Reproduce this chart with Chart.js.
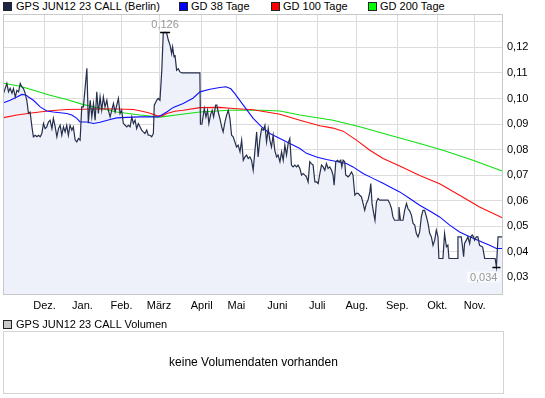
<!DOCTYPE html>
<html>
<head>
<meta charset="utf-8">
<script src="https://cdn.jsdelivr.net/npm/chart.js"></script>
<style>
    body { margin: 0; width: 545px; height: 398px; background: #fff; position: relative; overflow: hidden;
           font-family: "Liberation Sans", Arial, sans-serif; font-size: 11px; color: #000; }
    .sq { position: absolute; width: 7px; height: 7px; border: 1px solid #222; }
    .tx { position: absolute; height: 12px; line-height: 12px; white-space: nowrap; }
    #chartBox { position: absolute; left: 0; top: 0; }
    #volBox { position: absolute; left: 3px; top: 331px; width: 499px; height: 61px; border: 1px solid #d4d4d4;
              text-align: center; line-height: 61px; font-size: 12px; }
</style>
</head>
<body>
<div class="sq" style="left:3px;top:2px;background:#1b2644"></div>
<div class="tx" style="left:16px;top:0px">GPS JUN12 23 CALL (Berlin)</div>
<div class="sq" style="left:179px;top:2px;background:#0000ff"></div>
<div class="tx" style="left:191px;top:0px">GD 38 Tage</div>
<div class="sq" style="left:271px;top:2px;background:#ff0000"></div>
<div class="tx" style="left:283px;top:0px">GD 100 Tage</div>
<div class="sq" style="left:368px;top:2px;background:#00ff00"></div>
<div class="tx" style="left:380px;top:0px">GD 200 Tage</div>

<canvas id="chartBox" width="545" height="320"></canvas>

<div class="sq" style="left:3px;top:320px;background:#c8c8c8"></div>
<div class="tx" style="left:16px;top:318px">GPS JUN12 23 CALL Volumen</div>
<div id="volBox">keine Volumendaten vorhanden</div>

<script>
    // x values are trading days from the left edge of the chart
    var monthDays = [22.7, 43.4, 64.7, 85.2, 108.5, 127.4, 149.8, 171.6, 193.2, 215.3, 237.1, 257.5];
    var monthLabels = ["Dez.", "Jan.", "Feb.", "März", "April", "Mai", "Juni", "Juli", "Aug.", "Sep.", "Okt.", "Nov."];
    var yTicks = [0.03, 0.04, 0.05, 0.06, 0.07, 0.08, 0.09, 0.10, 0.11, 0.12, 0.13];

    var priceDays = [
        0.3, 2.1, 3.0, 3.9, 4.9, 5.7, 6.7, 7.6, 8.5, 9.4, 10.3, 11.2, 12.1, 13.0, 13.9, 14.8, 15.8, 16.6, 17.6, 18.5,
        19.4, 20.3, 21.2, 22.1, 23.0, 23.9, 24.8, 25.7, 26.7, 27.5, 28.5, 29.4, 30.3, 31.2, 32.1, 33.0, 33.9, 34.8, 35.7, 36.6,
        37.6, 38.4, 39.4, 40.3, 41.2, 42.1, 43.0, 43.9, 45.8, 46.6, 47.6, 48.5, 49.4, 50.3, 51.2, 52.1, 53.0, 53.9, 54.8, 55.7,
        56.7, 57.5, 58.5, 59.4, 60.3, 61.2, 63.0, 63.9, 64.8, 65.7, 67.6, 68.4, 69.4, 70.3, 71.2, 72.1, 73.0, 73.9, 74.8, 75.7,
        76.6, 77.5, 78.5, 79.3, 80.3, 81.2, 82.1, 82.6, 83.9, 84.8, 85.7, 86.7, 87.5, 88.5, 89.4, 90.3, 91.2, 92.1, 92.6, 93.4,
        93.9, 94.8, 95.7, 96.6, 97.6, 107.5, 107.8, 108.6, 109.9, 110.8, 111.7, 112.4, 113.5, 114.2, 115.0, 116.1, 116.8, 117.5, 118.4, 119.4,
        120.2, 121.2, 122.1, 123.0, 123.9, 124.8, 125.7, 126.6, 127.5, 128.4, 129.4, 130.3, 131.2, 132.1, 133.0, 133.9, 134.8, 135.7, 136.6, 137.5,
        138.5, 139.3, 140.3, 141.2, 142.1, 143.0, 143.9, 144.8, 145.7, 146.6, 147.5, 148.4, 149.4, 150.2, 151.2, 152.1, 153.0, 153.9, 154.8, 155.7,
        156.6, 157.5, 158.4, 159.3, 160.3, 161.1, 162.1, 163.0, 163.9, 164.8, 165.7, 166.6, 167.5, 168.4, 169.3, 170.3, 171.2, 172.1, 173.0, 173.9,
        174.8, 175.7, 176.6, 177.5, 178.4, 179.4, 180.2, 180.8, 181.7, 182.6, 183.5, 184.4, 185.0, 185.7, 186.6, 187.1, 188.4, 189.3, 190.3, 191.1,
        192.1, 193.0, 193.9, 194.8, 195.7, 196.6, 197.5, 198.4, 199.3, 200.3, 200.8, 201.5, 202.4, 203.1, 203.9, 204.8, 205.7, 210.2, 211.2, 212.1,
        212.9, 213.8, 215.7, 216.2, 217.0, 218.4, 219.3, 220.3, 221.1, 222.1, 223.0, 223.9, 224.8, 225.7, 226.6, 227.5, 228.4, 229.3, 230.2, 231.2,
        232.1, 233.0, 233.9, 234.8, 235.7, 236.6, 237.5, 238.0, 240.2, 241.1, 242.1, 242.9, 243.5, 248.2, 248.4, 250.2, 250.8, 251.5, 252.0, 253.0,
        253.8, 254.8, 255.3, 256.2, 256.9, 257.5, 258.4, 259.3, 260.2, 261.9, 263.0, 268.7, 269.4, 270.3, 272.9
    ];
    var priceValues = [
        0.1020, 0.1059, 0.1026, 0.1040, 0.1021, 0.1039, 0.1006, 0.1032, 0.1026, 0.1059, 0.1045, 0.1039, 0.1020, 0.0993, 0.0942, 0.0947, 0.0889, 0.0850, 0.0856, 0.0850,
        0.0856, 0.0850, 0.0863, 0.0902, 0.0882, 0.0889, 0.0908, 0.0915, 0.0882, 0.0922, 0.0889, 0.0850, 0.0882, 0.0895, 0.0856, 0.0889, 0.0869, 0.0895, 0.0856, 0.0895,
        0.0876, 0.0889, 0.0837, 0.0830, 0.0843, 0.0837, 0.0967, 0.0967, 0.1118, 0.0903, 0.0993, 0.0928, 0.0980, 0.0915, 0.1026, 0.0941, 0.1006, 0.0954, 0.1006, 0.0967,
        0.0993, 0.0954, 0.0928, 0.0954, 0.0980, 0.0947, 0.1000, 0.0941, 0.0954, 0.0902, 0.0889, 0.0895, 0.0889, 0.0928, 0.0902, 0.0915, 0.0882, 0.0902, 0.0889, 0.0876,
        0.0869, 0.0863, 0.0876, 0.0856, 0.0856, 0.0850, 0.0863, 0.0974, 0.0993, 0.1000, 0.0993, 0.1111, 0.1255, 0.1260, 0.1255, 0.1228, 0.1209, 0.1176, 0.1202, 0.1163,
        0.1170, 0.1111, 0.1117, 0.1104, 0.1100, 0.1100, 0.0899, 0.0899, 0.0961, 0.0928, 0.0954, 0.0902, 0.0941, 0.0954, 0.0928, 0.0974, 0.0974, 0.0947, 0.0922, 0.0889,
        0.0869, 0.0908, 0.0935, 0.0954, 0.0922, 0.0856, 0.0850, 0.0830, 0.0810, 0.0817, 0.0791, 0.0837, 0.0758, 0.0771, 0.0778, 0.0765, 0.0771, 0.0758, 0.0719, 0.0791,
        0.0869, 0.0771, 0.0843, 0.0882, 0.0876, 0.0895, 0.0830, 0.0882, 0.0837, 0.0810, 0.0856, 0.0797, 0.0771, 0.0778, 0.0752, 0.0791, 0.0758, 0.0817, 0.0778, 0.0824,
        0.0843, 0.0739, 0.0732, 0.0739, 0.0732, 0.0739, 0.0726, 0.0700, 0.0706, 0.0700, 0.0693, 0.0673, 0.0752, 0.0745, 0.0739, 0.0673, 0.0673, 0.0667, 0.0706, 0.0739,
        0.0732, 0.0719, 0.0745, 0.0726, 0.0732, 0.0719, 0.0700, 0.0660, 0.0752, 0.0758, 0.0752, 0.0758, 0.0732, 0.0758, 0.0752, 0.0700, 0.0693, 0.0700, 0.0712, 0.0700,
        0.0621, 0.0628, 0.0628, 0.0621, 0.0615, 0.0589, 0.0562, 0.0589, 0.0602, 0.0634, 0.0667, 0.0589, 0.0550, 0.0523, 0.0595, 0.0608, 0.0602, 0.0602, 0.0589, 0.0569,
        0.0536, 0.0523, 0.0523, 0.0575, 0.0523, 0.0523, 0.0562, 0.0589, 0.0569, 0.0559, 0.0543, 0.0510, 0.0504, 0.0471, 0.0458, 0.0477, 0.0536, 0.0562, 0.0562, 0.0536,
        0.0510, 0.0471, 0.0458, 0.0425, 0.0445, 0.0484, 0.0458, 0.0373, 0.0373, 0.0471, 0.0419, 0.0425, 0.0373, 0.0373, 0.0458, 0.0458, 0.0425, 0.0380, 0.0432, 0.0445,
        0.0458, 0.0432, 0.0458, 0.0465, 0.0458, 0.0445, 0.0458, 0.0458, 0.0425, 0.0418, 0.0373, 0.0373, 0.0340, 0.0458, 0.0458
    ];

    var gd38Days = [0.3, 3.9, 7.6, 10.3, 12.7, 13.9, 16.6, 20.3, 23.9, 27.5, 31.2, 34.8, 37.6, 40.3, 42.1, 45.8, 49.4, 53.0, 58.5, 62.1,
        67.6, 74.8, 80.3, 84.8, 89.4, 93.0, 98.4, 103.9, 107.5, 113.0, 118.4, 121.7, 124.4, 126.6, 131.2, 136.6, 141.2, 145.7, 151.2, 156.6,
        162.1, 165.7, 171.2, 176.6, 182.1, 187.5, 191.1, 196.6, 202.0, 207.5, 212.9, 216.6, 222.1, 227.5, 233.0, 238.4, 243.9, 249.3, 254.8, 260.2,
        265.7, 269.4, 272.9];
    var gd38Values = [0.0983, 0.0993, 0.1006, 0.1016, 0.1013, 0.1006, 0.0993, 0.0967, 0.0951, 0.0947, 0.0944, 0.0941, 0.0935, 0.0922, 0.0908, 0.0908, 0.0902, 0.0907, 0.0918, 0.0924,
        0.0926, 0.0928, 0.0928, 0.0928, 0.0947, 0.0965, 0.0980, 0.1002, 0.1026, 0.1036, 0.1043, 0.1046, 0.1038, 0.1019, 0.0974, 0.0922, 0.0889, 0.0863, 0.0843, 0.0824,
        0.0804, 0.0785, 0.0771, 0.0761, 0.0753, 0.0745, 0.0732, 0.0706, 0.0687, 0.0668, 0.0647, 0.0634, 0.0608, 0.0582, 0.0559, 0.0536, 0.0504, 0.0477, 0.0458, 0.0442,
        0.0425, 0.0412, 0.0412];

    var gd100Days = [0.3, 7.6, 16.6, 25.7, 34.8, 43.9, 53.0, 62.1, 71.2, 76.6, 80.3, 83.9, 86.7, 89.4, 93.9, 98.4, 107.5, 118.4, 125.7, 136.6,
        143.9, 151.2, 162.1, 173.0, 180.2, 185.7, 193.0, 200.3, 207.5, 216.6, 227.5, 238.4, 249.3, 260.2, 272.9];
    var gd100Values = [0.0925, 0.0935, 0.0944, 0.0952, 0.0957, 0.0958, 0.0960, 0.0959, 0.0957, 0.0949, 0.0942, 0.0933, 0.0931, 0.0941, 0.0950, 0.0954, 0.0964, 0.0965, 0.0961, 0.0956,
        0.0947, 0.0938, 0.0915, 0.0893, 0.0884, 0.0872, 0.0837, 0.0797, 0.0765, 0.0735, 0.0698, 0.0666, 0.0621, 0.0575, 0.0532];

    var gd200Days = [0.3, 9.4, 16.6, 25.7, 34.8, 43.9, 53.0, 62.1, 74.8, 85.7, 96.6, 107.5, 123.9, 142.1, 151.2, 162.1, 180.2, 194.8, 211.2, 227.5,
        240.2, 256.6, 272.9];
    var gd200Values = [0.1060, 0.1048, 0.1032, 0.1013, 0.0996, 0.0976, 0.0962, 0.0947, 0.0935, 0.0927, 0.0937, 0.0947, 0.0954, 0.0954, 0.0951, 0.0935, 0.0915, 0.0889, 0.0856, 0.0824,
        0.0797, 0.0758, 0.0715];

    function pairs(xs, ys) {
        return xs.map(function(x, i) { return { x: x, y: ys[i] }; });
    }
    function fmt(v, d) { return v.toFixed(d).replace(".", ","); }

    // frame around the plot plus the max / min markers of the price line
    var chartExtras = {
        id: "chartExtras",
        afterDatasetsDraw: function(chart) {
            var ctx = chart.ctx, a = chart.chartArea, xs = chart.scales.x, ys = chart.scales.y;
            ctx.save();
            ctx.strokeStyle = "#c8c8c8";
            ctx.lineWidth = 1;
            ctx.strokeRect(Math.round(a.left) + 0.5, Math.round(a.top) + 0.5, Math.round(a.right - a.left) - 1, Math.round(a.bottom - a.top));

            var hiV = Math.max.apply(null, priceValues), loV = Math.min.apply(null, priceValues);
            var hx = xs.getPixelForValue(priceDays[priceValues.indexOf(hiV)]), hy = Math.round(ys.getPixelForValue(hiV)) + 0.5;
            var lx = xs.getPixelForValue(priceDays[priceValues.indexOf(loV)]), ly = Math.round(ys.getPixelForValue(loV)) + 0.5;

            ctx.strokeStyle = "#000";
            ctx.lineWidth = 1.5;
            ctx.beginPath();
            ctx.moveTo(hx - 5, hy); ctx.lineTo(hx + 5, hy);
            ctx.moveTo(lx - 4, ly); ctx.lineTo(lx + 4, ly);
            ctx.stroke();

            ctx.font = "11px 'Liberation Sans', Arial, sans-serif";
            ctx.textBaseline = "middle";
            ctx.textAlign = "center";
            ctx.fillStyle = "#999";
            ctx.fillText(fmt(hiV, 3), hx, hy - 8);

            var lt = fmt(loV, 3), lw = ctx.measureText(lt).width;
            ctx.fillStyle = "rgba(255,255,255,0.65)";
            ctx.fillRect(lx + 2 - lw - 4, ly + 4, lw + 6, 11);
            ctx.textAlign = "right";
            ctx.fillStyle = "#999";
            ctx.fillText(lt, lx + 1, ly + 10);
            ctx.restore();
        }
    };

    Chart.defaults.font.family = "'Liberation Sans', Arial, sans-serif";
    Chart.defaults.font.size = 11;
    Chart.defaults.color = "#000";

    var mainChart = new Chart(document.getElementById("chartBox").getContext("2d"), {
        type: "line",
        data: {
            datasets: [
                { label: "GPS JUN12 23 CALL (Berlin)", data: pairs(priceDays, priceValues), borderColor: "#26304c",
                  backgroundColor: "#eef1fa", fill: "start", borderWidth: 1.2, order: 0 },
                { label: "GD 38 Tage", data: pairs(gd38Days, gd38Values), borderColor: "#1010ff", fill: false, borderWidth: 1.1, order: 1 },
                { label: "GD 100 Tage", data: pairs(gd100Days, gd100Values), borderColor: "#ff1010", fill: false, borderWidth: 1.1, order: 2 },
                { label: "GD 200 Tage", data: pairs(gd200Days, gd200Values), borderColor: "#10e010", fill: false, borderWidth: 1.1, order: 3 }
            ]
        },
        options: {
            responsive: false,
            animation: false,
            events: [],
            elements: { point: { radius: 0 }, line: { tension: 0 } },
            layout: { padding: { left: 3, top: 14, right: 0, bottom: 0 } },
            plugins: {
                legend: { display: false },
                tooltip: { enabled: false },
                filler: { drawTime: "beforeDatasetsDraw" }
            },
            scales: {
                x: {
                    type: "linear",
                    position: "bottom",
                    min: 0,
                    max: 273,
                    afterBuildTicks: function(scale) {
                        scale.ticks = monthDays.map(function(v) { return { value: v }; });
                    },
                    afterFit: function(scale) { scale.height = 26; },
                    ticks: {
                        autoSkip: false,
                        maxRotation: 0,
                        padding: 5,
                        callback: function(value, index) { return monthLabels[index]; }
                    },
                    grid: { color: "#dcdcdc", drawTicks: false },
                    border: { display: false }
                },
                y: {
                    type: "linear",
                    position: "right",
                    min: 0.0234,
                    max: 0.1331,
                    afterBuildTicks: function(scale) {
                        scale.ticks = yTicks.map(function(v) { return { value: v }; });
                    },
                    afterFit: function(scale) { scale.width = 42; },
                    ticks: {
                        padding: 4,
                        callback: function(value) { return value > 0.125 ? "" : fmt(value, 2); }
                    },
                    grid: { color: "#dcdcdc", drawTicks: false },
                    border: { display: false }
                }
            }
        },
        plugins: [chartExtras]
    });
</script>
</body>
</html>
